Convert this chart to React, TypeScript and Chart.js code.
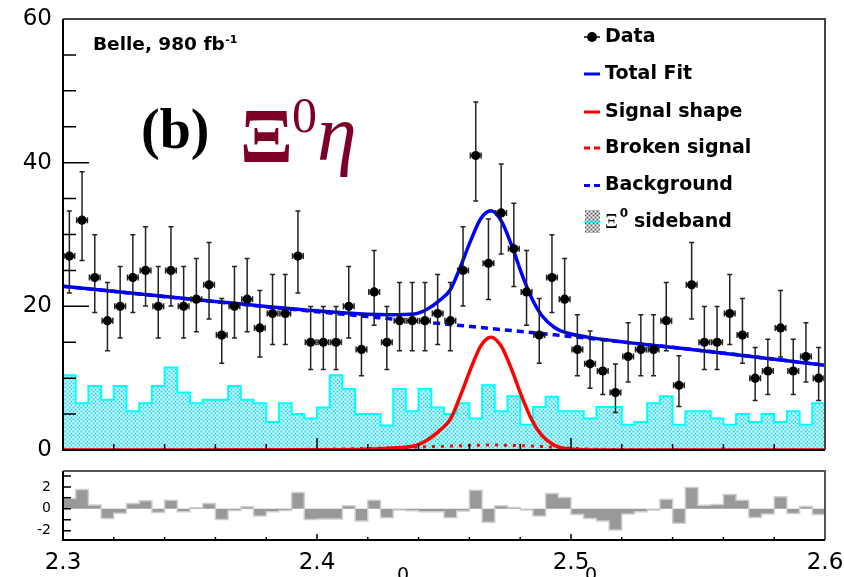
import React, { useEffect, useRef } from "react";
import { Chart, registerables } from "chart.js";

Chart.register(...registerables);

const X_MIN = 2.3;
const X_MAX = 2.6;
const BIN_WIDTH = 0.005;

// Data (events per 5 MeV bin)
const dataCounts = [27, 32, 24, 18, 20, 24, 25, 20, 25, 20, 21, 23, 16, 20, 21, 17, 19, 19, 27, 15, 15, 15, 20, 14, 22, 15, 18, 18, 18, 19, 18, 25, 41, 26, 33, 28, 22, 16, 24, 21, 14, 12, 11, 8, 13, 14, 14, 18, 9, 23, 15, 15, 19, 16, 10, 11, 17, 11, 13, 10];
const dataErrUp = [6.27, 6.72, 5.97, 5.33, 5.56, 5.97, 6.07, 5.56, 6.07, 5.56, 5.66, 5.87, 5.09, 5.56, 5.66, 5.21, 5.44, 5.44, 6.27, 4.97, 4.97, 4.97, 5.56, 4.84, 5.77, 4.97, 5.33, 5.33, 5.33, 5.44, 5.33, 6.07, 7.46, 6.17, 6.81, 6.36, 5.77, 5.09, 5.97, 5.66, 4.84, 4.57, 4.43, 3.96, 4.71, 4.84, 4.84, 5.33, 4.12, 5.87, 4.97, 4.97, 5.44, 5.09, 4.28, 4.43, 5.21, 4.43, 4.71, 4.28];
const dataErrDown = [5.16, 5.61, 4.85, 4.18, 4.42, 4.85, 4.95, 4.42, 4.95, 4.42, 4.53, 4.75, 3.94, 4.42, 4.53, 4.06, 4.3, 4.3, 5.16, 3.81, 3.81, 3.81, 4.42, 3.68, 4.64, 3.81, 4.18, 4.18, 4.18, 4.3, 4.18, 4.95, 6.35, 5.05, 5.7, 5.25, 4.64, 3.94, 4.85, 4.53, 3.68, 3.4, 3.26, 2.77, 3.55, 3.68, 3.68, 4.18, 2.94, 4.75, 3.81, 3.81, 4.3, 3.94, 3.1, 3.26, 4.06, 3.26, 3.55, 3.1];

// Xi0 sideband (scaled)
const sidebandCounts = [10.4, 6.5, 8.9, 7.0, 8.9, 5.4, 6.5, 8.9, 11.5, 8.0, 6.5, 7.0, 7.0, 8.9, 7.0, 6.5, 3.9, 6.5, 5.0, 4.4, 5.9, 10.4, 8.5, 5.0, 5.0, 3.4, 8.5, 5.4, 8.5, 5.9, 5.0, 6.5, 4.4, 9.0, 5.4, 7.5, 3.5, 6.0, 7.4, 5.4, 5.4, 4.4, 6.0, 6.0, 3.5, 3.9, 6.5, 7.5, 3.5, 5.4, 5.4, 4.4, 3.5, 5.0, 3.9, 5.0, 3.9, 5.4, 3.5, 6.5];

// Pulls (lower panel)
const pullValues = [0.94, 1.76, 0.34, -0.88, -0.4, 0.49, 0.73, -0.33, 0.79, -0.27, 0.09, 0.49, -0.97, -0.15, 0.18, -0.67, -0.27, -0.15, 1.49, -0.97, -0.94, -0.94, 0.27, -1.12, 0.79, -0.82, -0.12, -0.18, -0.27, -0.27, -0.82, -0.21, 1.7, -1.24, 0.27, 0.12, -0.12, -0.67, 1.4, 1.04, -0.52, -0.88, -1.12, -1.94, -0.48, -0.27, -0.12, 0.88, -1.33, 1.94, 0.33, 0.39, 1.3, 0.79, -0.79, -0.48, 1.09, -0.42, 0.21, -0.52];

// Fit components read at these masses
const curveX = [2.3, 2.35, 2.4, 2.42, 2.4285, 2.4385, 2.4435, 2.4485, 2.4525, 2.4565, 2.4605, 2.4645, 2.4685, 2.4725, 2.4765, 2.4805, 2.4845, 2.4885, 2.4935, 2.4985, 2.5085, 2.55, 2.6];
const signalShape = [0, 0, 0.02, 0.1, 0.25, 0.6, 1.4, 2.8, 4.3, 7.6, 11.3, 14.5, 15.7, 14.47, 11.33, 7.53, 4.25, 2.04, 0.65, 0.16, 0.01, 0, 0];
const brokenSignal = [0, 0.02, 0.1, 0.22, 0.3, 0.4, 0.45, 0.5, 0.55, 0.6, 0.65, 0.68, 0.7, 0.68, 0.65, 0.6, 0.55, 0.48, 0.38, 0.28, 0.12, 0, 0];
const background = [22.8, 21.0, 19.25, 18.57, 18.28, 17.94, 17.77, 17.6, 17.46, 17.33, 17.19, 17.05, 16.91, 16.77, 16.63, 16.49, 16.35, 16.21, 16.03, 15.85, 15.48, 13.9, 11.8];

const mainYTicks = [0, 20, 40, 60];
const xTickValues = [2.3, 2.4, 2.5, 2.6];
const pullTicks = [-2, 0, 2];

const legendLabels = ["Data", "Total Fit", "Signal shape", "Broken signal", "Background", "sideband"];

const binCenters = dataCounts.map((_, i) => X_MIN + BIN_WIDTH * (i + 0.5));
const binEdges = Array.from({ length: dataCounts.length + 1 }, (_, i) => X_MIN + BIN_WIDTH * i);
const stepPoints = (vals: number[]) => binEdges.map((x, i) => ({ x, y: vals[Math.min(i, vals.length - 1)] }));

function makePattern(bg: string, dots: [number, number, string][]) {
  const c = document.createElement("canvas");
  c.width = 4;
  c.height = 4;
  const g = c.getContext("2d")!;
  g.fillStyle = bg;
  g.fillRect(0, 0, 4, 4);
  dots.forEach(([x, y, col]) => {
    g.fillStyle = col;
    g.fillRect(x, y, 1, 1);
  });
  return g.createPattern(c, "repeat")!;
}

const SANS = '"DejaVu Sans"';
const SERIF = '"Liberation Serif"';
const MAROON = "#7d0026";
const CLEAR = "rgba(0,0,0,0)";

export default function App() {
  const mainRef = useRef<HTMLCanvasElement>(null);
  const pullRef = useRef<HTMLCanvasElement>(null);

  useEffect(() => {
    const cyanPattern = makePattern("#8eeff4", [
      [1, 1, "#ffffff"],
      [3, 3, "#ffffff"],
      [1, 3, "#3cc6d0"],
      [3, 1, "#3cc6d0"],
    ]);
    const grayPattern = makePattern("#b8b8b8", [
      [1, 1, "#ffffff"],
      [3, 3, "#ffffff"],
      [1, 3, "#555555"],
      [3, 1, "#555555"],
    ]);

    const errorBars = {
      id: "errorBars",
      beforeDatasetDraw(chart: any, args: any) {
        if (args.index !== 0) return;
        const { ctx } = chart;
        const x = chart.scales.x;
        const y = chart.scales.y;
        ctx.save();
        ctx.strokeStyle = "#222";
        ctx.lineWidth = 1.5;
        dataCounts.forEach((n, i) => {
          const cx = x.getPixelForValue(binCenters[i]);
          const cy = y.getPixelForValue(n);
          const yt = y.getPixelForValue(n + dataErrUp[i]);
          const yb = y.getPixelForValue(n - dataErrDown[i]);
          const xl = x.getPixelForValue(binCenters[i] - BIN_WIDTH / 2) + 1;
          const xr = x.getPixelForValue(binCenters[i] + BIN_WIDTH / 2) - 1;
          ctx.beginPath();
          ctx.moveTo(cx, yt);
          ctx.lineTo(cx, yb);
          ctx.moveTo(cx - 2.5, yt);
          ctx.lineTo(cx + 2.5, yt);
          ctx.moveTo(cx - 2.5, yb);
          ctx.lineTo(cx + 2.5, yb);
          ctx.moveTo(xl, cy);
          ctx.lineTo(xr, cy);
          ctx.moveTo(xl, cy - 3);
          ctx.lineTo(xl, cy + 3);
          ctx.moveTo(xr, cy - 3);
          ctx.lineTo(xr, cy + 3);
          ctx.stroke();
        });
        ctx.restore();
      },
    };

    const mainDecor = {
      id: "mainDecor",
      afterDraw(chart: any) {
        const { ctx, chartArea: ca } = chart;
        const x = chart.scales.x;
        const y = chart.scales.y;
        ctx.save();
        // ticks
        ctx.strokeStyle = "#000";
        ctx.lineWidth = 1.5;
        ctx.beginPath();
        for (let v = 0; v <= 60; v += 5) {
          const py = y.getPixelForValue(v);
          const len = v % 20 === 0 ? 26 : 13;
          ctx.moveTo(ca.left, py);
          ctx.lineTo(ca.left + len, py);
        }
        for (let k = 0; k <= 15; k++) {
          const px = x.getPixelForValue(X_MIN + 0.02 * k);
          const len = k % 5 === 0 ? 12 : 6;
          ctx.moveTo(px, ca.bottom);
          ctx.lineTo(px, ca.bottom - len);
        }
        ctx.stroke();
        // frame
        ctx.lineWidth = 2;
        ctx.strokeStyle = "#444";
        ctx.beginPath();
        ctx.moveTo(ca.left, ca.top);
        ctx.lineTo(ca.right, ca.top);
        ctx.lineTo(ca.right, ca.bottom);
        ctx.stroke();
        ctx.strokeStyle = "#000";
        ctx.beginPath();
        ctx.moveTo(ca.left, ca.top);
        ctx.lineTo(ca.left, ca.bottom);
        ctx.lineTo(ca.right, ca.bottom);
        ctx.stroke();

        // annotation texts
        ctx.fillStyle = "#000";
        ctx.textBaseline = "middle";
        ctx.textAlign = "left";
        ctx.font = `bold 18.5px ${SANS}`;
        const belle = "Belle, 980 fb";
        ctx.fillText(belle, 93, 45.5);
        const bw = ctx.measureText(belle).width;
        ctx.font = `bold 11px ${SANS}`;
        ctx.fillText("-1", 93 + bw + 0.5, 40.5);

        ctx.textBaseline = "alphabetic";
        ctx.font = `bold 56px ${SERIF}`;
        ctx.fillText("(b)", 141, 148);
        ctx.fillStyle = MAROON;
        ctx.font = `bold 78px ${SERIF}`;
        ctx.fillText("Ξ", 240, 162);
        ctx.font = `50px ${SERIF}`;
        ctx.fillText("0", 292, 132);
        ctx.font = `italic 80px ${SERIF}`;
        ctx.fillText("η", 317, 160);

        // legend
        const rows = [37, 74, 112, 148, 185.5, 222];
        const lx0 = 584;
        const lx1 = 600;
        ctx.textBaseline = "middle";
        ctx.fillStyle = "#000";
        ctx.strokeStyle = "#000";
        ctx.lineWidth = 1.5;
        ctx.beginPath();
        ctx.moveTo(lx0, rows[0]);
        ctx.lineTo(lx1, rows[0]);
        ctx.stroke();
        ctx.beginPath();
        ctx.arc(592, rows[0], 5, 0, Math.PI * 2);
        ctx.fill();

        const solid = (row: number, col: string) => {
          ctx.strokeStyle = col;
          ctx.lineWidth = 3;
          ctx.beginPath();
          ctx.moveTo(lx0, row);
          ctx.lineTo(lx1, row);
          ctx.stroke();
        };
        const dashed = (row: number, col: string) => {
          ctx.strokeStyle = col;
          ctx.lineWidth = 3;
          ctx.beginPath();
          ctx.moveTo(lx0, row);
          ctx.lineTo(lx0 + 6, row);
          ctx.moveTo(lx0 + 10, row);
          ctx.lineTo(lx1, row);
          ctx.stroke();
        };
        solid(rows[1], "#0000ff");
        solid(rows[2], "#ff0000");
        dashed(rows[3], "#ff0000");
        dashed(rows[4], "#0000ff");
        ctx.fillStyle = grayPattern;
        ctx.fillRect(585, 210, 15, 23);
        ctx.strokeStyle = "#00ffff";
        ctx.lineWidth = 1.5;
        ctx.beginPath();
        ctx.moveTo(lx0, rows[5]);
        ctx.lineTo(lx1, rows[5]);
        ctx.stroke();

        ctx.fillStyle = "#000";
        ctx.font = `bold 19px ${SANS}`;
        for (let i = 0; i < 5; i++) ctx.fillText(legendLabels[i], 605, rows[i]);
        ctx.font = `20px ${SERIF}`;
        ctx.fillText("Ξ", 605, rows[5] + 1);
        const xw = ctx.measureText("Ξ").width;
        ctx.font = `bold 12px ${SANS}`;
        ctx.fillText("0", 605 + xw + 2, rows[5] - 8);
        ctx.font = `bold 19px ${SANS}`;
        ctx.fillText(legendLabels[5], 634, rows[5]);
        ctx.restore();
      },
    };

    const mainChart = new Chart(mainRef.current!, {
      type: "line",
      data: {
        datasets: [
          {
            label: "Data",
            data: binCenters.map((x, i) => ({ x, y: dataCounts[i] })),
            showLine: false,
            pointRadius: 4.6,
            pointBackgroundColor: "#000",
            pointBorderWidth: 0,
            order: 0,
          },
          {
            label: "Total Fit",
            data: curveX.map((x, i) => ({ x, y: background[i] + signalShape[i] + brokenSignal[i] })),
            borderColor: "#0000ff",
            borderWidth: 3.5,
            pointRadius: 0,
            cubicInterpolationMode: "monotone",
            order: 1,
          },
          {
            label: "Background",
            data: curveX.map((x, i) => ({ x, y: background[i] })),
            borderColor: "#0000ff",
            borderWidth: 3.5,
            borderDash: [7, 5],
            pointRadius: 0,
            cubicInterpolationMode: "monotone",
            order: 2,
          },
          {
            label: "Broken signal",
            data: curveX.map((x, i) => ({ x, y: brokenSignal[i] })),
            borderColor: "#ff0000",
            borderWidth: 3,
            borderDash: [3, 6],
            pointRadius: 0,
            cubicInterpolationMode: "monotone",
            order: 3,
          },
          {
            label: "Signal shape",
            data: curveX.map((x, i) => ({ x, y: signalShape[i] })),
            borderColor: "#ff0000",
            borderWidth: 3.5,
            pointRadius: 0,
            cubicInterpolationMode: "monotone",
            order: 4,
          },
          {
            label: "Xi0 sideband",
            data: stepPoints(sidebandCounts),
            stepped: "before",
            fill: "origin",
            backgroundColor: cyanPattern,
            borderColor: "#00ffff",
            borderWidth: 2,
            pointRadius: 0,
            order: 5,
          },
        ] as any,
      },
      options: {
        responsive: false,
        animation: false,
        devicePixelRatio: 1,
        events: [],
        layout: { padding: { left: 0, top: 19, right: 19, bottom: 20 } },
        plugins: { legend: { display: false }, tooltip: { enabled: false } },
        scales: {
          x: { type: "linear", min: X_MIN, max: X_MAX, display: false },
          y: {
            type: "linear",
            min: 0,
            max: 60,
            afterBuildTicks: (s: any) => {
              s.ticks = mainYTicks.map((v) => ({ value: v }));
            },
            afterFit: (s: any) => {
              s.width = 63;
            },
            grid: { display: true, drawOnChartArea: false, drawTicks: true, tickLength: 11, color: CLEAR },
            border: { display: false },
            ticks: { font: { family: "DejaVu Sans", size: 23 }, color: "#000", padding: 0 },
          },
        },
      } as any,
      plugins: [errorBars, mainDecor],
    });

    const pullDecor = {
      id: "pullDecor",
      afterDraw(chart: any) {
        const { ctx, chartArea: ca } = chart;
        const x = chart.scales.x;
        const y = chart.scales.y;
        ctx.save();
        ctx.strokeStyle = "#000";
        ctx.lineWidth = 1.5;
        ctx.beginPath();
        for (let v = -2; v <= 3; v++) {
          const py = y.getPixelForValue(v);
          ctx.moveTo(ca.left, py);
          ctx.lineTo(ca.left + 8, py);
        }
        for (let k = 0; k <= 15; k++) {
          const px = x.getPixelForValue(X_MIN + 0.02 * k);
          const len = k % 5 === 0 ? 6 : 3;
          ctx.moveTo(px, ca.bottom);
          ctx.lineTo(px, ca.bottom - len);
        }
        ctx.stroke();
        ctx.lineWidth = 2;
        ctx.strokeStyle = "#555";
        ctx.beginPath();
        ctx.moveTo(ca.left, ca.top);
        ctx.lineTo(ca.right, ca.top);
        ctx.lineTo(ca.right, ca.bottom);
        ctx.stroke();
        ctx.strokeStyle = "#000";
        ctx.beginPath();
        ctx.moveTo(ca.left, ca.top);
        ctx.lineTo(ca.left, ca.bottom);
        ctx.lineTo(ca.right, ca.bottom);
        ctx.stroke();
        // partly visible axis-title glyphs at the bottom edge
        ctx.fillStyle = "#000";
        ctx.font = `19px ${SANS}`;
        ctx.textAlign = "center";
        ctx.textBaseline = "alphabetic";
        ctx.fillText("0", 403, 121);
        ctx.fillText("0", 591, 121);
        ctx.restore();
      },
    };

    const pullChart = new Chart(pullRef.current!, {
      type: "line",
      data: {
        datasets: [
          {
            label: "Pull",
            data: stepPoints(pullValues),
            stepped: "before",
            fill: "origin",
            backgroundColor: "#999999",
            borderColor: "#cfcfcf",
            borderWidth: 1.5,
            pointRadius: 0,
          },
        ] as any,
      },
      options: {
        responsive: false,
        animation: false,
        devicePixelRatio: 1,
        events: [],
        layout: { padding: { left: 0, top: 11, right: 19, bottom: 0 } },
        plugins: { legend: { display: false }, tooltip: { enabled: false } },
        scales: {
          x: {
            type: "linear",
            min: X_MIN,
            max: X_MAX,
            afterBuildTicks: (s: any) => {
              s.ticks = xTickValues.map((v) => ({ value: v }));
            },
            afterFit: (s: any) => {
              s.height = 37;
            },
            grid: { display: true, drawOnChartArea: false, drawTicks: true, tickLength: 9, color: CLEAR },
            border: { display: false },
            ticks: {
              font: { family: "DejaVu Sans", size: 23 },
              color: "#000",
              padding: 0,
              autoSkip: false,
              maxRotation: 0,
              minRotation: 0,
              callback: (v: any) => Number(v).toFixed(1),
            },
          },
          y: {
            type: "linear",
            min: -2.85,
            max: 3.45,
            afterBuildTicks: (s: any) => {
              s.ticks = pullTicks.map((v) => ({ value: v }));
            },
            afterFit: (s: any) => {
              s.width = 63;
            },
            grid: { display: true, drawOnChartArea: false, drawTicks: true, tickLength: 12, color: CLEAR },
            border: { display: false },
            ticks: { font: { family: "DejaVu Sans", size: 14 }, color: "#000", padding: 0 },
          },
        },
      } as any,
      plugins: [pullDecor],
    });

    return () => {
      mainChart.destroy();
      pullChart.destroy();
    };
  }, []);

  return (
    <div
      style={{
        position: "absolute",
        left: 0,
        top: 0,
        width: 844,
        height: 577,
        background: "#fff",
        overflow: "hidden",
      }}
    >
      <canvas ref={mainRef} width={844} height={470} style={{ position: "absolute", left: 0, top: 0 }} />
      <canvas ref={pullRef} width={844} height={117} style={{ position: "absolute", left: 0, top: 460 }} />
    </div>
  );
}
